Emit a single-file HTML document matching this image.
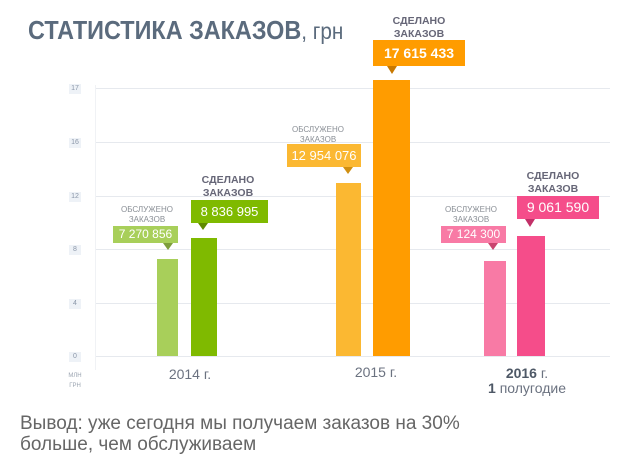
<!DOCTYPE html>
<html><head><meta charset="utf-8"><style>
body{margin:0;width:640px;height:476px;background:#fff;position:relative;overflow:hidden;font-family:"Liberation Sans","DejaVu Sans",sans-serif}
.a{position:absolute;white-space:nowrap}
.g{position:absolute;left:95px;width:515px;height:1px;background:#e6e9ee}
.t{position:absolute;left:69px;width:12px;font-size:7px;color:#8a96a8;text-align:center;background:#eef2f7;line-height:10px}
.b{position:absolute;bottom:120px}
.box{position:absolute;color:#fff;text-align:center;font-size:13px;white-space:nowrap}
.h{position:absolute;text-align:center;color:#8a8f96;font-size:8px;line-height:10px;width:90px}
.hd{position:absolute;text-align:center;color:#667;font-size:10.5px;line-height:13px;width:90px;font-weight:bold}
.p{position:absolute;width:0;height:0;border-left:5px solid transparent;border-right:5px solid transparent}
</style></head><body>
<div class="a" style="left:28px;top:15px;font-size:26px;font-weight:bold;color:#5b6b7d;transform:scaleX(0.9);transform-origin:left top">СТАТИСТИКА ЗАКАЗОВ<span style="font-weight:normal;font-size:23px">, грн</span></div>

<div class="g" style="top:88px"></div><div class="g" style="top:142px"></div><div class="g" style="top:196px"></div><div class="g" style="top:249px"></div><div class="g" style="top:303px"></div><div class="g" style="top:356px"></div>
<div class="a" style="left:95px;top:85px;width:1px;height:285px;background:#f0f2f5"></div>
<div class="t" style="top:84px">17</div><div class="t" style="top:138px">16</div><div class="t" style="top:192px">12</div><div class="t" style="top:245px">8</div><div class="t" style="top:299px">4</div><div class="t" style="top:352px">0</div>
<div class="a" style="left:65px;top:371px;width:20px;text-align:center;font-size:6px;color:#9aa3b0;line-height:10px">МЛН<br>ГРН</div>

<div class="b" style="left:157px;width:21px;top:259px;background:#a8cf5a"></div>
<div class="b" style="left:191px;width:26px;top:238px;background:#7fba00"></div>
<div class="b" style="left:336px;width:25px;top:183px;background:#fbb832"></div>
<div class="b" style="left:373px;width:37px;top:80px;background:#ff9c00"></div>
<div class="b" style="left:484px;width:22px;top:261px;background:#f87aa5"></div>
<div class="b" style="left:517px;width:28px;top:236px;background:#f54d8a"></div>

<div class="h" style="left:102px;top:205px">ОБСЛУЖЕНО<br>ЗАКАЗОВ</div>
<div class="box" style="left:113px;top:226px;width:65px;height:17px;line-height:17px;background:#a8cf5a;font-size:12px">7 270 856</div>
<div class="p" style="left:163px;top:243px;border-top:7px solid #7d9e3c"></div>
<div class="hd" style="left:183px;top:174px">СДЕЛАНО<br>ЗАКАЗОВ</div>
<div class="box" style="left:191px;top:200px;width:77px;height:23px;line-height:23px;background:#7fba00">8 836 995</div>
<div class="p" style="left:198px;top:223px;border-top:7px solid #5f8a00"></div>

<div class="h" style="left:273px;top:125px">ОБСЛУЖЕНО<br>ЗАКАЗОВ</div>
<div class="box" style="left:287px;top:144px;width:74px;height:23px;line-height:23px;background:#fbb832">12 954 076</div>
<div class="p" style="left:343px;top:167px;border-top:7px solid #d08f10"></div>
<div class="hd" style="left:374px;top:15px">СДЕЛАНО<br>ЗАКАЗОВ</div>
<div class="box" style="left:373px;top:40px;width:92px;height:26px;line-height:26px;background:#ff9c00;font-weight:bold;font-size:14px">17 615 433</div>
<div class="p" style="left:387px;top:66px;border-top:8px solid #c87800"></div>

<div class="h" style="left:426px;top:205px">ОБСЛУЖЕНО<br>ЗАКАЗОВ</div>
<div class="box" style="left:441px;top:226px;width:65px;height:17px;line-height:17px;background:#f87aa5;font-size:12px">7 124 300</div>
<div class="p" style="left:488px;top:243px;border-top:7px solid #c9446f"></div>
<div class="hd" style="left:508px;top:170px">СДЕЛАНО<br>ЗАКАЗОВ</div>
<div class="box" style="left:517px;top:196px;width:82px;height:23px;line-height:23px;background:#f54d8a;font-size:14px">9 061 590</div>
<div class="p" style="left:525px;top:219px;border-top:8px solid #c23068"></div>

<div class="a" style="left:155px;top:366px;width:70px;text-align:center;font-size:14px;color:#6b7280">2014 г.</div>
<div class="a" style="left:341px;top:364px;width:70px;text-align:center;font-size:14px;color:#6b7280">2015 г.</div>
<div class="a" style="left:477px;top:366px;width:100px;text-align:center;font-size:14px;color:#6b7280;line-height:15px"><b style="color:#4e5866">2016</b> г.<br><b style="color:#4e5866">1</b> полугодие</div>

<div class="a" style="left:20px;top:413px;font-size:19px;color:#666;line-height:21px">Вывод: уже сегодня мы получаем заказов на 30%<br>больше, чем обслуживаем</div>
</body></html>
